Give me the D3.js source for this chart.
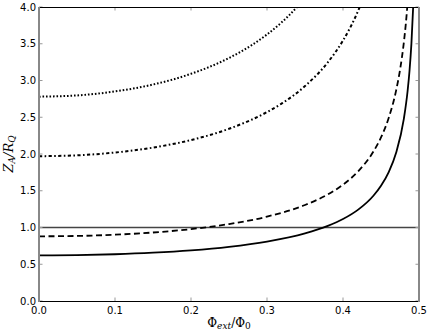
<!DOCTYPE html>
<html><head><meta charset="utf-8">
<script src="https://cdn.jsdelivr.net/npm/d3@7"></script>
<style>body{margin:0;background:#fff}svg{display:block}</style>
</head><body>
<svg id="c" width="429" height="331"></svg>
<script>
// Values
const xTicks = [0.0, 0.1, 0.2, 0.3, 0.4, 0.5];
const yTicks = [0.0, 0.5, 1.0, 1.5, 2.0, 2.5, 3.0, 3.5, 4.0];
const refLevel = 1.0;

const solidX = [0, 0.05, 0.1, 0.15, 0.2, 0.25, 0.3, 0.35, 0.38, 0.4, 0.42, 0.44, 0.45, 0.46, 0.47, 0.48, 0.485, 0.4875, 0.49, 0.4925];
const solidY = [0.62, 0.624, 0.636, 0.657, 0.689, 0.737, 0.809, 0.920, 1.022, 1.115, 1.243, 1.432, 1.568, 1.751, 2.021, 2.474, 2.857, 3.129, 3.498, 4.04];

const dashedX = [0, 0.05, 0.1, 0.15, 0.2, 0.25, 0.3, 0.35, 0.38, 0.4, 0.42, 0.44, 0.45, 0.46, 0.47, 0.475, 0.48, 0.4825, 0.485];
const dashedY = [0.88, 0.885, 0.902, 0.932, 0.978, 1.047, 1.148, 1.306, 1.450, 1.583, 1.765, 2.033, 2.225, 2.486, 2.869, 3.142, 3.512, 3.754, 4.054];

const dashDotX = [0, 0.05, 0.1, 0.15, 0.2, 0.25, 0.3, 0.32, 0.35, 0.38, 0.4, 0.41, 0.42, 0.425];
const dashDotY = [1.97, 1.982, 2.020, 2.087, 2.190, 2.343, 2.570, 2.691, 2.924, 3.247, 3.544, 3.730, 3.950, 4.077];

const dottedX = [0, 0.05, 0.1, 0.15, 0.2, 0.25, 0.28, 0.3, 0.32, 0.33, 0.34];
const dottedY = [2.78, 2.797, 2.851, 2.945, 3.091, 3.306, 3.482, 3.626, 3.798, 3.896, 4.005];

const L = 39, R = 419, T = 7, B = 301;
const svg = d3.select("#c");
const x = d3.scaleLinear().domain([0, 0.5]).range([L, R]);
const y = d3.scaleLinear().domain([0, 4]).range([B, T]);

svg.append("defs").append("clipPath").attr("id", "clip")
  .append("rect").attr("x", L).attr("y", T).attr("width", R - L).attr("height", B - T);

const g = svg.append("g").attr("clip-path", "url(#clip)");

// reference line
g.append("line").attr("x1", x(0)).attr("x2", x(0.5))
  .attr("y1", y(refLevel)).attr("y2", y(refLevel))
  .attr("stroke", "#444").attr("stroke-width", 1.3);

const line = d3.line().x(d => x(d[0])).y(d => y(d[1])).curve(d3.curveMonotoneX);
const series = [
  {xs: solidX, ys: solidY, dash: null, w: 1.8},
  {xs: dashedX, ys: dashedY, dash: "6,3.5", w: 1.8},
  {xs: dashDotX, ys: dashDotY, dash: "3.2,2.4,1.6,2.4", w: 2},
  {xs: dottedX, ys: dottedY, dash: "1.6,1.9", w: 2}
];
series.forEach(s => {
  const pts = s.xs.map((v, i) => [v, s.ys[i]]);
  g.append("path").datum(pts).attr("d", line)
    .attr("fill", "none").attr("stroke", "#000").attr("stroke-width", s.w)
    .attr("stroke-dasharray", s.dash);
});

// ticks (inward, all sides)
const tk = 3.5, tickColor = "#999";
const ax = svg.append("g");
xTicks.forEach(t => {
  ax.append("line").attr("x1", x(t)).attr("x2", x(t)).attr("y1", B).attr("y2", B - tk)
    .attr("stroke", tickColor).attr("stroke-width", 1);
  ax.append("line").attr("x1", x(t)).attr("x2", x(t)).attr("y1", T).attr("y2", T + tk)
    .attr("stroke", tickColor).attr("stroke-width", 1);
  ax.append("text").attr("x", x(t)).attr("y", B + 13).attr("text-anchor", "middle")
    .attr("font-family", "DejaVu Sans").attr("font-size", 10).text(d3.format(".1f")(t));
});
yTicks.forEach(t => {
  ax.append("line").attr("x1", L).attr("x2", L + tk).attr("y1", y(t)).attr("y2", y(t))
    .attr("stroke", tickColor).attr("stroke-width", 1);
  ax.append("line").attr("x1", R).attr("x2", R - tk).attr("y1", y(t)).attr("y2", y(t))
    .attr("stroke", tickColor).attr("stroke-width", 1);
  ax.append("text").attr("x", L - 3).attr("y", y(t) + 3.6).attr("text-anchor", "end")
    .attr("font-family", "DejaVu Sans").attr("font-size", 10).text(d3.format(".1f")(t));
});

// spines
svg.append("line").attr("x1", L).attr("x2", R).attr("y1", T + 0.5).attr("y2", T + 0.5).attr("stroke", "#000");
svg.append("line").attr("x1", L).attr("x2", R).attr("y1", B + 0.5).attr("y2", B + 0.5).attr("stroke", "#000");
svg.append("line").attr("x1", L).attr("x2", L).attr("y1", T).attr("y2", B + 1).attr("stroke", "#888").attr("stroke-width", 2);
svg.append("line").attr("x1", R).attr("x2", R).attr("y1", T).attr("y2", B + 1).attr("stroke", "#888").attr("stroke-width", 2);

// axis labels
const xl = svg.append("text").attr("x", (L + R) / 2).attr("y", 327).attr("text-anchor", "middle")
  .attr("font-family", "DejaVu Serif").attr("font-size", 12);
xl.append("tspan").text("Φ");
xl.append("tspan").attr("font-style", "italic").attr("font-size", 9).attr("dy", 2).text("ext");
xl.append("tspan").attr("dy", -2).text("/Φ");
xl.append("tspan").attr("font-size", 9).attr("dy", 2).text("0");

const yl = svg.append("text").attr("transform", `translate(13,${(T + B) / 2}) rotate(-90)`)
  .attr("text-anchor", "middle").attr("font-family", "DejaVu Serif").attr("font-size", 13)
  .attr("font-style", "italic");
yl.append("tspan").text("Z");
yl.append("tspan").attr("font-size", 9).attr("dy", 2).text("A");
yl.append("tspan").attr("dy", -2).text("/R");
yl.append("tspan").attr("font-size", 9).attr("dy", 2).text("Q");
</script>
</body></html>
